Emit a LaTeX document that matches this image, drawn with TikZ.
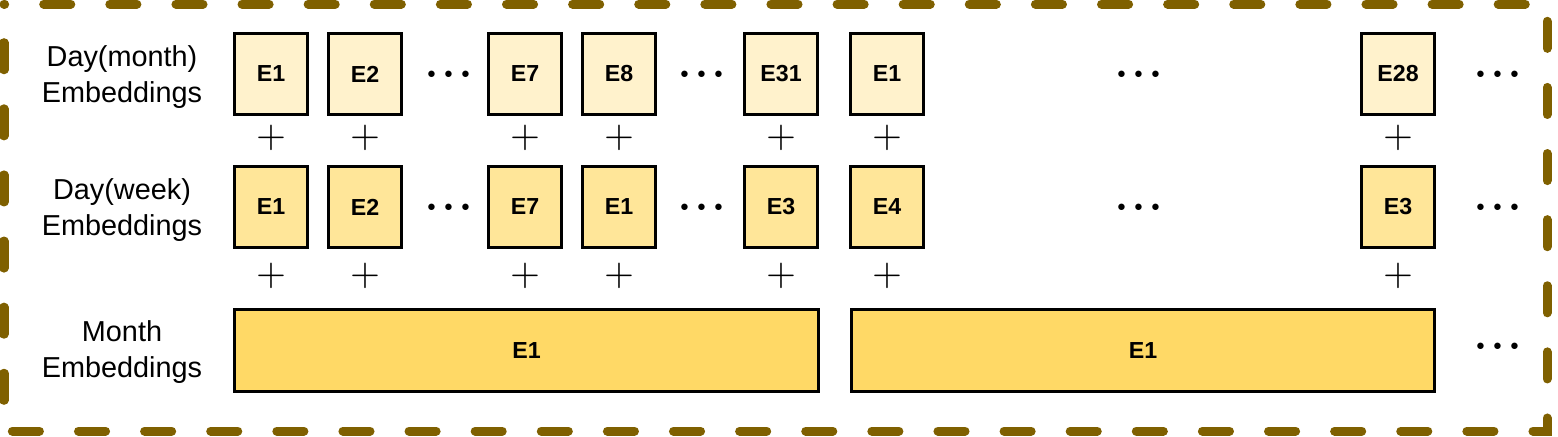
\documentclass[tikz,border=0pt]{standalone}
\usepackage{fontspec}
\setmainfont{Liberation Sans}
\usetikzlibrary{positioning}
\definecolor{frameGold}{HTML}{7F6000}
\definecolor{dayMonthFill}{HTML}{FFF2CC}
\definecolor{dayWeekFill}{HTML}{FFE699}
\definecolor{monthFill}{HTML}{FFD966}

\begin{document}
\begin{tikzpicture}[x=0.01cm,y=-0.01cm,
        emb/.style={draw,line width=0.85pt,rectangle,minimum width=0.73cm,minimum height=0.81cm,inner sep=0pt,font=\fontsize{6.6}{8}\selectfont\bfseries},
        rowlabel/.style={align=center,inner sep=0pt,font=\fontsize{8.2}{10.4}\selectfont},
        plus/.style={inner sep=0pt,font=\fontsize{10.5}{12}\selectfont},
        more/.style={inner sep=0pt,anchor=base,font=\fontsize{16}{18}\selectfont}]
    \useasboundingbox (0,0) rectangle (1558,436);
    %% Frame
    \draw[frameGold,line width=2.56pt,line cap=round,dash pattern=on 7.7pt off 11.1pt,dash phase=7.8pt] (4,4) rectangle (1547,431);
    %% Row labels
    \node[rowlabel] (lblDayMonth) at (122,77) {Day(month)\\Embeddings};
    \node[rowlabel] (lblDayWeek) at (122,210) {Day(week)\\Embeddings};
    \node[rowlabel] (lblMonth) at (122,352) {Month\\Embeddings};
    %% Day embeddings and plus signs
    \foreach \x/\m/\w [count=\i] in {271/E1/E1,365/E2/E2,525/E7/E7,619/E8/E1,781/E31/E3,887/E1/E4,1398/E28/E3} {
        \node[emb,fill=dayMonthFill] (dm\i) at (\x,74) {\m};
        \node[emb,fill=dayWeekFill] (dw\i) at (\x,207) {\w};
        \node[plus] (plusA\i) at (\x,138) {$+$};
        \node[plus] (plusB\i) at (\x,276) {$+$};
    }
    %% Month embeddings
    \node[emb,fill=monthFill,minimum width=5.84cm] (mo1) at (526.5,350.5) {E1};
    \node[emb,fill=monthFill,minimum width=5.83cm] (mo2) at (1143,350.5) {E1};
    %% Dots
    \foreach \x [count=\i] in {449,702,1139,1498} {
        \node[more] (moreDM\i) at (\x,89) {${\cdot}{\cdot}{\cdot}$};
        \node[more] (moreDW\i) at (\x,222) {${\cdot}{\cdot}{\cdot}$};
    }
    \node[more] (moreMo) at (1498,361) {${\cdot}{\cdot}{\cdot}$};
\end{tikzpicture}
\end{document}
